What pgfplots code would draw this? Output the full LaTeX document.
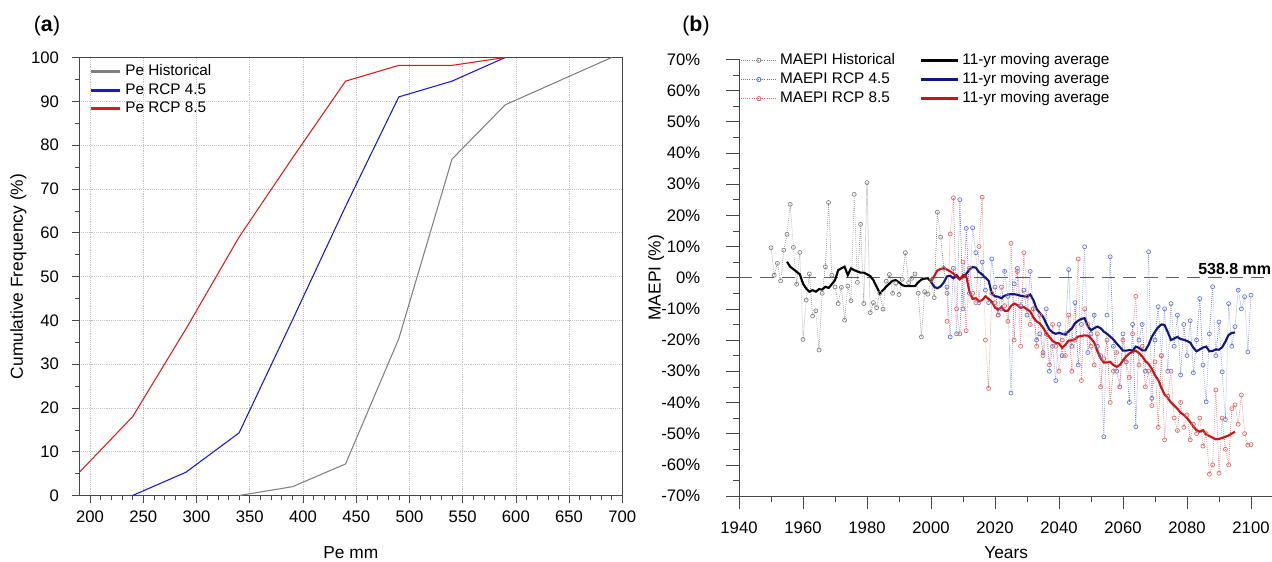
\documentclass[border=0pt]{standalone}
\usepackage{fontspec}
\setmainfont{Liberation Sans}
\usepackage{pgfplots}
\pgfplotsset{compat=1.18}

\definecolor{histgray}{RGB}{128,128,128}
\definecolor{pblue}{RGB}{25,25,200}
\definecolor{pred}{RGB}{215,30,30}
\definecolor{sgray}{RGB}{125,125,125}
\definecolor{sblue}{RGB}{95,115,215}
\definecolor{sred}{RGB}{228,100,100}
\definecolor{mablue}{RGB}{15,25,125}
\definecolor{mared}{RGB}{200,20,20}
\definecolor{axgray}{RGB}{70,70,70}
\definecolor{gridgray}{RGB}{195,195,195}
\definecolor{zerogray}{RGB}{95,95,95}

\pgfplotsset{
  every axis/.append style={
    /pgf/number format/assume math mode=true,
    /pgf/number format/1000 sep={},
    tick label style={font=\fontsize{12.5}{14}\selectfont},
    label style={font=\fontsize{13}{15}\selectfont},
    axis line style={axgray},
    every tick/.style={axgray},
    tick align=outside,
  },
  scatleg/.style={legend image code/.code={\draw[##1, mark repeat=2, mark phase=2] plot coordinates {(0pt,0pt) (13.5pt,0pt) (27pt,0pt)};}},
  maleg/.style={legend image code/.code={\draw[##1] (0pt,0pt) -- (28pt,0pt);}},
  aleg/.style={legend image code/.code={\draw[##1] (0pt,0pt) -- (22pt,0pt);}},
}

\begin{document}
\begin{tikzpicture}

% ---------------- panel (a) ----------------
\begin{axis}[
  at={(59.55pt,49.125pt)}, anchor=south west,
  scale only axis, width=407.2pt, height=328.5pt,
  xmin=190, xmax=700, ymin=0, ymax=100,
  xtick={200,250,...,700}, ytick={0,10,...,100},
  minor x tick num=4, minor y tick num=1,
  tick pos=left,
  major tick length=5.25pt, minor tick length=3pt,
  grid=major, major grid style={gridgray, densely dotted},
  xticklabel style={yshift=-2.5pt},
  yticklabel style={xshift=-6.6pt},
  xlabel={Pe mm}, ylabel={Cumulative Frequency (\%)},
  xlabel style={at={(axis description cs:0.5,-0.131)}, anchor=center},
  ylabel style={at={(axis description cs:-0.1125,0.5)}, anchor=center},
  legend style={draw=none, fill=none, at={(rel axis cs:0.0173,0.99)}, anchor=north west,
    font=\fontsize{11.5}{13}\selectfont, inner sep=0pt, row sep=0pt,
    nodes={inner xsep=3pt, inner ysep=1pt, text height=9pt, text depth=3pt}},
  legend cell align=left,
  aleg,
]
\addlegendimage{histgray, line width=2.2pt}
\addlegendentry{Pe Historical}
\addlegendimage{pblue, line width=2.2pt}
\addlegendentry{Pe RCP 4.5}
\addlegendimage{pred, line width=2.2pt}
\addlegendentry{Pe RCP 8.5}

\addplot[histgray, line width=0.8pt, forget plot] table {
x y
340 0
390 2
440 7.2
490 35.8
540 76.8
590 89.2
690 100
};
\addplot[pblue, line width=0.8pt, forget plot] table {
x y
240 0
290 5.3
340 14.3
390 40
440 66
490 91
540 94.6
590 100
};
\addplot[pred, line width=0.8pt, forget plot] table {
x y
190 5.3
240 18
290 38
340 59
390 77
440 94.6
490 98.2
540 98.2
590 100
};
\end{axis}

% ---------------- panel (b) ----------------
\begin{axis}[
  at={(554.25pt,48.75pt)}, anchor=south west,
  scale only axis, width=400.8pt, height=327.5pt,
  xmin=1940, xmax=2107, ymin=-70, ymax=70,
  xtick={1940,1960,...,2100}, ytick={-70,-60,...,70},
  yticklabels={-70\%,-60\%,-50\%,-40\%,-30\%,-20\%,-10\%,0\%,10\%,20\%,30\%,40\%,50\%,60\%,70\%},
  minor x tick num=1, minor y tick num=1,
  axis x line*=bottom, axis y line*=left,
  axis line style={-},
  major tick length=9.75pt, minor tick length=4.5pt,
  xticklabel style={yshift=-5.8pt},
  yticklabel style={xshift=-15.8pt},
  xlabel={Years}, ylabel={MAEPI (\%)},
  xlabel style={at={(axis description cs:0.5,-0.1305)}, anchor=center},
  ylabel style={at={(axis description cs:-0.155,0.5)}, anchor=center},
  clip=false,
  legend columns=2,
  legend style={draw=none, fill=none, at={(rel axis cs:0.0024,1.0204)}, anchor=north west,
    font=\fontsize{11.5}{13}\selectfont, inner sep=0pt, row sep=0pt,
    nodes={inner xsep=2pt, inner ysep=1pt, text height=9.2pt, text depth=3.2pt},
    /tikz/every even column/.append style={column sep=16.5pt}},
  legend cell align=left,
]
\addlegendimage{sgray, densely dotted, line width=0.6pt, mark=o, mark size=1.6pt, mark options={solid}, scatleg}
\addlegendentry{MAEPI Historical}
\addlegendimage{black, line width=2pt, maleg}
\addlegendentry{11-yr moving average}
\addlegendimage{sblue, densely dotted, line width=0.6pt, mark=o, mark size=1.6pt, mark options={solid}, scatleg}
\addlegendentry{MAEPI RCP 4.5}
\addlegendimage{mablue, line width=2pt, maleg}
\addlegendentry{11-yr moving average}
\addlegendimage{sred, densely dotted, line width=0.6pt, mark=o, mark size=1.6pt, mark options={solid}, scatleg}
\addlegendentry{MAEPI RCP 8.5}
\addlegendimage{mared, line width=2pt, maleg}
\addlegendentry{11-yr moving average}

% historical annual
\addplot[sgray, densely dotted, line width=0.5pt, mark=o, mark size=1.5pt, mark options={solid}, forget plot] table {
x y
1950 9.6
1951 0.8
1952 4.6
1953 -1
1954 8.8
1955 13.9
1956 23.5
1957 9.7
1958 -2.1
1959 8.1
1960 -19.8
1961 -7.2
1962 1.2
1963 -12.3
1964 -10.6
1965 -23.2
1966 -5
1967 3.5
1968 24.1
1969 0.8
1970 -3
1971 -8.3
1972 -3.1
1973 -13.6
1974 -2.7
1975 -7.4
1976 26.7
1977 -1.5
1978 17.1
1979 -8.3
1980 30.5
1981 -11.2
1982 -8.0
1983 -9.6
1984 -5.0
1985 -10.1
1986 -1.1
1987 1.0
1988 -5.0
1989 -1.8
1990 -5.4
1991 -0.5
1992 8.0
1993 -1.6
1994 -0.2
1995 1.2
1996 -5.0
1997 -19.0
1998 -4.5
1999 -5.3
2000 -0.8
2001 -6.4
2002 21.0
2003 13.0
2004 3.0
2005 -5.0
};

% RCP 4.5 annual
\addplot[sblue, densely dotted, line width=0.5pt, mark=o, mark size=1.5pt, mark options={solid}, forget plot] table {
x y
2005 -3
2006 -19
2007 3
2008 -18
2009 25
2010 -10
2011 15.8
2012 -5
2013 16
2014 8
2015 -8
2016 5
2017 -4
2018 -8
2019 6
2020 -3
2021 -12
2022 -10
2023 2
2024 -6
2025 -37
2026 -2
2027 3
2028 -9
2029 -4
2030 -12
2031 2
2032 -10
2033 -20
2034 -18
2035 -24
2036 -10
2037 -30
2038 -22
2039 -33
2040 -15
2041 -25
2042 -18
2043 2.6
2044 -22
2045 -8
2046 -28
2047 -15
2048 9.9
2049 -24
2050 -18
2051 -12
2052 -22
2053 -25
2054 -51
2055 -12
2056 6.7
2057 -22
2058 -30
2059 -35
2060 -18
2061 -27
2062 -40
2063 -15
2064 -47.8
2065 -20
2066 -15
2067 -30
2068 8.3
2069 -38.7
2070 -20
2071 -9.3
2072 -25
2073 -10
2074 -30
2075 -8.3
2076 -22
2077 -12
2078 -31.2
2079 -15
2080 -25
2081 -13.8
2082 -30.5
2083 -20
2084 -6.7
2085 -28
2086 -39.8
2087 -18
2088 -2.9
2089 -25
2090 -14.2
2091 -30.2
2092 -45.5
2093 -8.3
2094 -22
2095 -15.7
2096 -4
2097 -10
2098 -6.1
2099 -23.8
2100 -5.6
};

% RCP 8.5 annual
\addplot[sred, densely dotted, line width=0.5pt, mark=o, mark size=1.5pt, mark options={solid}, forget plot] table {
x y
2005 -14
2006 14
2007 25.6
2008 -10
2009 -18
2010 5
2011 -17
2012 3
2013 -5
2014 -8
2015 10
2016 25.8
2017 -20
2018 -35.5
2019 -5
2020 -8
2021 -12
2022 -3
2023 -9
2024 -14
2025 11
2026 -20
2027 2
2028 -22
2029 8
2030 -6
2031 -15
2032 -10
2033 -22
2034 -12
2035 -25
2036 -18
2037 -28
2038 -15
2039 -22
2040 -30
2041 -20
2042 -25
2043 -12
2044 -30
2045 -20
2046 6
2047 -33
2048 -10
2049 -15
2050 -22
2051 -28
2052 -18
2053 -35
2054 -26
2055 -20
2056 -40
2057 -30
2058 -24
2059 -35
2060 -20
2061 -27
2062 -32
2063 -18
2064 -6
2065 -28
2066 -22
2067 -35
2068 -30
2069 -41
2070 -27
2071 -48
2072 -25
2073 -52
2074 -38
2075 -30
2076 -45
2077 -49
2078 -40
2079 -48
2080 -44
2081 -52
2082 -47
2083 -50
2084 -45
2085 -54
2086 -50
2087 -63
2088 -60
2089 -36
2090 -62.7
2091 -45
2092 -55
2093 -60
2094 -42
2095 -40.8
2096 -47
2097 -37.6
2098 -50
2099 -53.7
2100 -53.5
};

% reference line
\addplot[zerogray, line width=1.2pt, dash pattern=on 10pt off 6pt, forget plot] coordinates {(1940,0) (2107,0)};
\node[anchor=base east, font=\bfseries\fontsize{12}{14}\selectfont, inner sep=0pt] at (axis cs:2106.4,1.15) {538.8 mm};

% moving averages
\addplot[black, line width=1.6pt, forget plot] table {
x y
1955 5.1
1956 3.5
1957 2.7
1958 1.9
1959 1.1
1960 -1.9
1961 -3.5
1962 -4.5
1963 -4.0
1964 -4.5
1965 -3.7
1966 -3.8
1967 -2.9
1968 -3.3
1969 -2.1
1970 -0.8
1971 2.4
1972 3.0
1973 3.5
1974 0.8
1975 3.0
1976 2.4
1977 2.0
1978 1.6
1979 1.6
1980 1.1
1981 0.5
1982 -0.8
1983 -2.9
1984 -5.0
1985 -4.0
1986 -2.9
1987 -1.9
1988 -1.0
1989 -0.8
1990 -1.5
1991 -2.4
1992 -2.7
1993 -2.7
1994 -2.7
1995 -2.7
1996 -1.5
1997 -0.6
1998 -0.3
1999 -0.2
2000 -1.3
};
\addplot[mablue, line width=1.6pt, forget plot] table {
x y
2000 -1.3
2001 -2.9
2002 -3.4
2003 -2.8
2004 -1.5
2005 0.4
2006 0.6
2007 -0.2
2008 0.8
2009 -0.5
2010 0.3
2011 1.2
2012 2.6
2013 3.4
2014 3.2
2015 1.8
2016 1.0
2017 0.0
2018 -1.0
2019 -5.0
2020 -6.0
2021 -6.1
2022 -6.6
2023 -5.8
2024 -5.4
2025 -5.3
2026 -5.3
2027 -5.5
2028 -5.8
2029 -6.0
2030 -6.1
2031 -5.4
2032 -7.2
2033 -10.0
2034 -11.3
2035 -12.5
2036 -14.7
2037 -16.6
2038 -17.6
2039 -18.0
2040 -17.7
2041 -18.0
2042 -18.3
2043 -17.2
2044 -16.3
2045 -14.6
2046 -13.8
2047 -13.2
2048 -13.0
2049 -15.5
2050 -16.9
2051 -16.2
2052 -15.7
2053 -16.2
2054 -17.3
2055 -18.0
2056 -18.9
2057 -19.8
2058 -21.1
2059 -22.2
2060 -23.4
2061 -23.4
2062 -23.2
2063 -23.4
2064 -22.1
2065 -22.5
2066 -23.3
2067 -23.3
2068 -21.5
2069 -19.0
2070 -17.3
2071 -15.9
2072 -15.0
2073 -15.2
2074 -17.5
2075 -20.0
2076 -19.5
2077 -19.0
2078 -19.7
2079 -19.9
2080 -20.3
2081 -20.8
2082 -22.5
2083 -23.6
2084 -23.0
2085 -22.4
2086 -22.1
2087 -23.6
2088 -23.5
2089 -23.0
2090 -23.1
2091 -22.3
2092 -20.5
2093 -18.4
2094 -17.7
2095 -17.6
};
\addplot[mared, line width=1.6pt, forget plot] table {
x y
2000 -1.3
2001 0.5
2002 2.3
2003 2.8
2004 3.0
2005 2.6
2006 2.0
2007 1.3
2008 0.3
2009 -0.5
2010 0.8
2011 0.6
2012 -4.5
2013 -6.8
2014 -6.6
2015 -7.6
2016 -7.2
2017 -6.0
2018 -6.8
2019 -7.7
2020 -9.6
2021 -10.3
2022 -9.4
2023 -10.6
2024 -10.6
2025 -9.1
2026 -8.3
2027 -8.8
2028 -9.7
2029 -9.4
2030 -10.2
2031 -10.8
2032 -12.8
2033 -14.0
2034 -14.7
2035 -16.0
2036 -17.8
2037 -19.0
2038 -20.3
2039 -20.9
2040 -21.1
2041 -22.5
2042 -21.5
2043 -20.2
2044 -20.1
2045 -19.7
2046 -18.9
2047 -18.7
2048 -18.5
2049 -18.6
2050 -19.5
2051 -20.8
2052 -23.6
2053 -25.8
2054 -27.2
2055 -27.2
2056 -27.0
2057 -28.0
2058 -28.6
2059 -28.0
2060 -26.5
2061 -25.2
2062 -24.3
2063 -23.8
2064 -23.4
2065 -24.2
2066 -25.2
2067 -26.7
2068 -27.7
2069 -29.2
2070 -31.3
2071 -32.8
2072 -35.3
2073 -37.5
2074 -38.6
2075 -40.0
2076 -41.0
2077 -42.0
2078 -43.3
2079 -44.0
2080 -45.0
2081 -46.3
2082 -47.8
2083 -48.9
2084 -49.4
2085 -48.9
2086 -50.3
2087 -50.8
2088 -51.3
2089 -51.8
2090 -51.7
2091 -51.4
2092 -51.0
2093 -50.6
2094 -50.0
2095 -49.4
};
\end{axis}

% panel letters
\node[font=\fontsize{16}{18}\selectfont] at (35.25pt,401.25pt) {(\textbf{a})};
\node[font=\fontsize{16}{18}\selectfont] at (522pt,401.25pt) {(\textbf{b})};

\pgfresetboundingbox
\useasboundingbox (0pt,0pt) rectangle (954pt,420.75pt);
\end{tikzpicture}
\end{document}
